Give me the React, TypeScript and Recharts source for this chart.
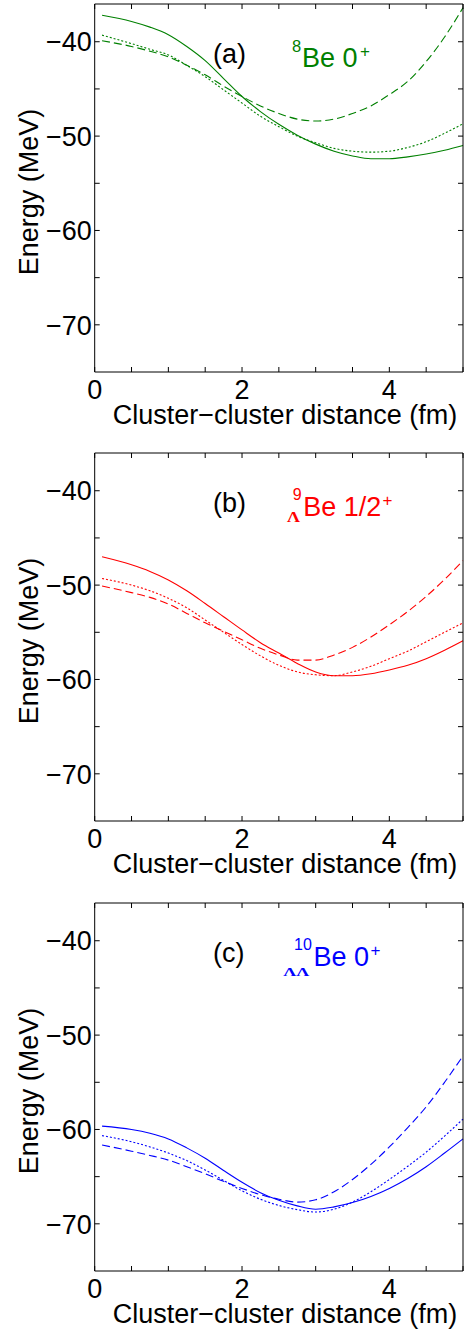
import { LineChart, Line, XAxis, YAxis } from "recharts";

// cluster-cluster distance (fm)
const DIST = [0.1, 0.5, 0.75, 1, 1.25, 1.5, 1.75, 2, 2.25, 2.5, 2.75, 3, 3.25, 3.5, 3.75, 4, 4.25, 4.5, 4.75, 5];

// (a) 8Be 0+
const BE8_SOLID = [-37.2, -37.85, -38.45, -39.25, -40.5, -42.0, -43.9, -45.8, -47.4, -48.75, -49.9, -50.85, -51.6, -52.1, -52.4, -52.4, -52.2, -51.9, -51.5, -51.0];
const BE8_DOTTED = [-39.3, -40.2, -40.8, -41.4, -42.5, -43.7, -45.1, -46.5, -47.9, -49.0, -50.0, -50.7, -51.3, -51.6, -51.7, -51.6, -51.2, -50.6, -49.7, -48.7];
const BE8_DASHED = [-39.9, -40.5, -41.0, -41.6, -42.5, -43.5, -44.7, -45.8, -46.8, -47.6, -48.2, -48.4, -48.2, -47.6, -46.8, -45.6, -44.2, -42.1, -39.5, -36.4];

// (b) 9/Lambda Be 1/2+
const BE9_SOLID = [-47.0, -47.85, -48.55, -49.45, -50.6, -51.95, -53.35, -54.75, -56.1, -57.2, -58.3, -59.2, -59.6, -59.6, -59.4, -59.0, -58.5, -57.8, -56.9, -55.9];
const BE9_DOTTED = [-49.3, -50.0, -50.6, -51.4, -52.4, -53.7, -55.0, -56.3, -57.5, -58.5, -59.2, -59.5, -59.6, -59.2, -58.6, -57.8, -57.0, -56.0, -55.0, -54.0];
const BE9_DASHED = [-50.1, -50.8, -51.3, -52.0, -53.0, -54.0, -54.9, -55.8, -56.7, -57.4, -57.95, -57.95, -57.4, -56.6, -55.5, -54.2, -52.8, -51.2, -49.4, -47.4];

// (c) 10/LambdaLambda Be 0+
const BE10_SOLID = [-59.65, -60.0, -60.4, -61.0, -61.95, -63.05, -64.35, -65.6, -66.7, -67.5, -68.1, -68.45, -68.2, -67.75, -67.1, -66.25, -65.2, -63.95, -62.5, -61.0];
const BE10_DOTTED = [-60.65, -61.3, -61.85, -62.5, -63.3, -64.3, -65.4, -66.5, -67.4, -68.05, -68.5, -68.75, -68.45, -67.7, -66.6, -65.3, -63.9, -62.4, -60.7, -58.9];
const BE10_DASHED = [-61.65, -62.3, -62.75, -63.25, -63.95, -64.7, -65.5, -66.25, -66.9, -67.4, -67.7, -67.45, -66.6, -65.3, -63.7, -61.85, -59.8, -57.6, -55.0, -52.2];

const X_TICKS = [0, 0.5, 1, 1.5, 2, 2.5, 3, 3.5, 4, 4.5, 5];
const X_LABELS = [0, 2, 4];
const Y_TICKS = [-70, -65, -60, -55, -50, -45, -40];
const Y_LABELS = [-70, -60, -50, -40];

const FONT = '"Liberation Sans", Arial, Helvetica, sans-serif';
const SERIF = '"Liberation Serif", "DejaVu Serif", serif';
const FS = 27;
const TICK = 5;
const TOP = 4; // plot top inside each chart

function BottomTick(p: any) {
  const v = p.payload.value;
  return (
    <g>
      <line x1={p.x} y1={p.y} x2={p.x} y2={p.y - TICK} stroke="#000" />
      {X_LABELS.includes(v) && (
        <text x={p.x} y={p.y + 27} textAnchor="middle" fontSize={FS} fontFamily={FONT} fill="#000">
          {v}
        </text>
      )}
    </g>
  );
}

function TopTick(p: any) {
  return <line x1={p.x} y1={p.y} x2={p.x} y2={p.y + TICK} stroke="#000" />;
}

function LeftTick(p: any) {
  const v = p.payload.value;
  return (
    <g>
      <line x1={p.x} y1={p.y} x2={p.x + TICK} y2={p.y} stroke="#000" />
      {Y_LABELS.includes(v) && (
        <text x={p.x - 3} y={p.y} dy="0.36em" textAnchor="end" fontSize={FS} fontFamily={FONT} fill="#000">
          {"\u2212" + Math.abs(v)}
        </text>
      )}
    </g>
  );
}

function RightTick(p: any) {
  return <line x1={p.x} y1={p.y} x2={p.x - TICK} y2={p.y} stroke="#000" />;
}

function XTitle() {
  return (
    <text x={285} y={TOP + 420} textAnchor="middle" fontSize={FS} fontFamily={FONT} fill="#000">
      Cluster−cluster distance (fm)
    </text>
  );
}

function YTitle({ note }: { note: React.ReactElement }) {
  const cy = TOP + 188;
  return (
    <g>
      <text x={38} y={cy} transform={`rotate(-90 38 ${cy})`} textAnchor="middle" fontSize={FS} fontFamily={FONT} fill="#000">
        Energy (MeV)
      </text>
      {note}
    </g>
  );
}

function NoteA() {
  const c = "#008000";
  return (
    <g fontFamily={FONT}>
      <text x={213} y={TOP + 59.3} fontSize={FS} fill="#000">(a)</text>
      <text fill={c}>
        <tspan x={292} y={TOP + 47.7} fontSize={16.5}>8</tspan>
        <tspan x={302} y={TOP + 62.7} fontSize={FS}>Be 0</tspan>
        <tspan x={360} y={TOP + 53} fontSize={17}>+</tspan>
      </text>
    </g>
  );
}

function NoteB() {
  const c = "#ff0000";
  return (
    <g fontFamily={FONT}>
      <text x={213} y={TOP + 58.8} fontSize={FS} fill="#000">(b)</text>
      <text x={287} y={TOP + 69.4} fontSize={14} fontWeight="bold" fontFamily={SERIF} fill={c} textLength={13} lengthAdjust="spacingAndGlyphs">Λ</text>
      <text fill={c}>
        <tspan x={292.7} y={TOP + 47.4} fontSize={16}>9</tspan>
        <tspan x={303.3} y={TOP + 62.7} fontSize={FS}>Be 1/2</tspan>
        <tspan x={382.5} y={TOP + 53} fontSize={17}>+</tspan>
      </text>
    </g>
  );
}

function NoteC() {
  const c = "#0000ff";
  return (
    <g fontFamily={FONT}>
      <text x={213} y={TOP + 58.8} fontSize={FS} fill="#000">(c)</text>
      <text x={283.3} y={TOP + 73.4} fontSize={13} fontWeight="bold" fontFamily={SERIF} fill={c} textLength={26} lengthAdjust="spacingAndGlyphs">ΛΛ</text>
      <text fill={c}>
        <tspan x={294} y={TOP + 47.4} fontSize={16}>10</tspan>
        <tspan x={313.5} y={TOP + 62.7} fontSize={FS}>Be 0</tspan>
        <tspan x={370.5} y={TOP + 53} fontSize={17}>+</tspan>
      </text>
    </g>
  );
}

type PanelProps = {
  top: number;
  color: string;
  solid: number[];
  dotted: number[];
  dashed: number[];
  note: React.ReactElement;
};

function Panel({ top, color, solid, dotted, dashed, note }: PanelProps) {
  const data = DIST.map((d, i) => ({ d, solid: solid[i], dotted: dotted[i], dashed: dashed[i] }));
  return (
    <div style={{ position: "absolute", left: 0, top }}>
      <LineChart width={474} height={450} data={data} margin={{ top: TOP - 1, right: 10, bottom: 0, left: 0 }}>
        <XAxis
          dataKey="d"
          type="number"
          domain={[0, 5]}
          ticks={X_TICKS}
          interval={0}
          height={78}
          tickSize={0}
          tickMargin={0}
          tickLine={false}
          axisLine={{ stroke: "#000", strokeWidth: 1 }}
          tick={(p: any) => <BottomTick {...p} />}
          label={<XTitle />}
        />
        <XAxis
          xAxisId="top"
          orientation="top"
          dataKey="d"
          type="number"
          domain={[0, 5]}
          ticks={X_TICKS}
          interval={0}
          height={1}
          tickSize={0}
          tickMargin={0}
          tickLine={false}
          axisLine={{ stroke: "#000", strokeWidth: 1 }}
          tick={(p: any) => <TopTick {...p} />}
        />
        <YAxis
          type="number"
          domain={[-75, -36]}
          allowDataOverflow
          ticks={Y_TICKS}
          interval={0}
          width={94.7}
          tickSize={0}
          tickMargin={0}
          tickLine={false}
          axisLine={{ stroke: "#000", strokeWidth: 1 }}
          tick={(p: any) => <LeftTick {...p} />}
          label={<YTitle note={note} />}
        />
        <YAxis
          yAxisId="right"
          orientation="right"
          type="number"
          domain={[-75, -36]}
          allowDataOverflow
          ticks={Y_TICKS}
          interval={0}
          width={1}
          tickSize={0}
          tickMargin={0}
          tickLine={false}
          axisLine={{ stroke: "#000", strokeWidth: 1 }}
          tick={(p: any) => <RightTick {...p} />}
        />
        <Line xAxisId="top" yAxisId="right" dataKey="solid" stroke="none" dot={false} activeDot={false} isAnimationActive={false} />
        <Line type="monotone" dataKey="solid" stroke={color} strokeWidth={1.1} dot={false} activeDot={false} isAnimationActive={false} />
        <Line type="monotone" dataKey="dotted" stroke={color} strokeWidth={1.1} strokeDasharray="2 2" dot={false} activeDot={false} isAnimationActive={false} />
        <Line type="monotone" dataKey="dashed" stroke={color} strokeWidth={1.1} strokeDasharray="8 4" dot={false} activeDot={false} isAnimationActive={false} />
      </LineChart>
    </div>
  );
}

export default function App() {
  return (
    <div style={{ position: "absolute", left: 0, top: 0, width: 474, height: 1331, overflow: "hidden", background: "#fff" }}>
      <Panel top={0} color="#008000" solid={BE8_SOLID} dotted={BE8_DOTTED} dashed={BE8_DASHED} note={<NoteA />} />
      <Panel top={449.3} color="#ff0000" solid={BE9_SOLID} dotted={BE9_DOTTED} dashed={BE9_DASHED} note={<NoteB />} />
      <Panel top={899.3} color="#0000ff" solid={BE10_SOLID} dotted={BE10_DOTTED} dashed={BE10_DASHED} note={<NoteC />} />
    </div>
  );
}
